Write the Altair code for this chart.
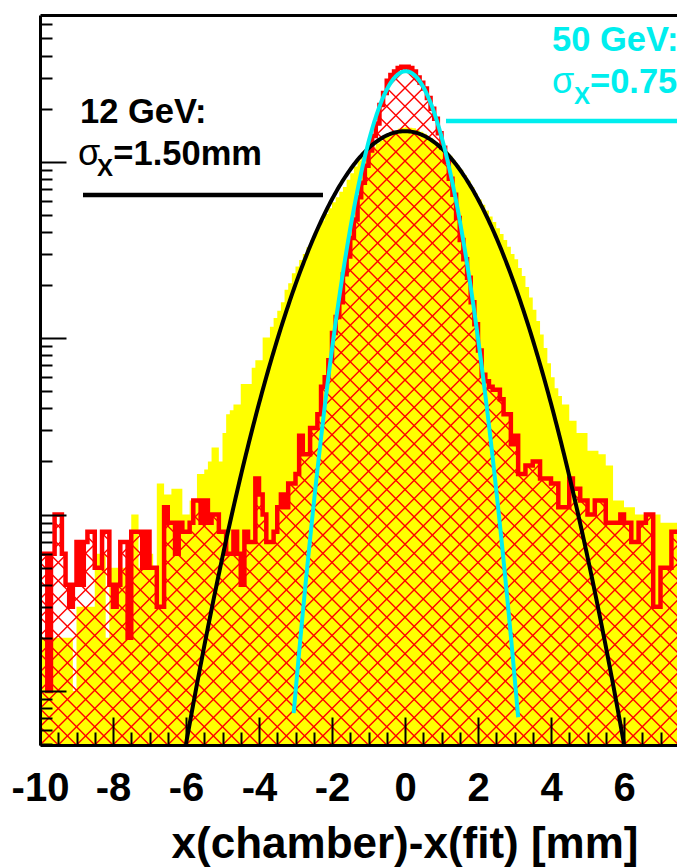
import numpy as np
import pandas as pd
import altair as alt

# ---- residual histograms, 0.1 mm bins starting at -10 mm -------------------
BIN_START = -10.0
BIN_WIDTH = 0.1

counts_12gev = [
    2, 2, 3, 2, 2, 2, 2, 2, 2, 1,
    3, 3, 3, 3, 3, 6, 6, 6, 2, 5,
    5, 5, 5, 5, 5, 10, 10, 5, 5, 5,
    6, 5, 15, 15, 13, 13, 14, 14, 14, 10,
    10, 12, 12, 17, 17, 18, 20, 24, 24, 20,
    29, 37, 39, 42, 42, 55, 55, 55, 68, 75,
    75, 101, 101, 116, 130, 143, 160, 188, 205, 233,
    255, 277, 300, 328, 360, 396, 430, 465, 505, 545,
    590, 630, 675, 720, 790, 860, 940, 1015, 1060, 1110,
    1160, 1210, 1270, 1320, 1380, 1420, 1460, 1490, 1540, 1560,
    1570, 1560, 1550, 1520, 1480, 1440, 1400, 1350, 1300, 1250,
    1200, 1140, 1080, 1020, 960, 900, 840, 780, 720, 660,
    610, 570, 530, 490, 455, 420, 390, 360, 330, 300,
    280, 250, 225, 195, 170, 145, 125, 105, 88, 72,
    60, 52, 47, 42, 42, 34, 34, 29, 29, 29,
    23, 23, 23, 22, 22, 19, 19, 12, 12, 12,
    11, 11, 11, 10, 10, 10, 10, 10, 10, 10,
    9, 9, 9, 9, 9,
]

counts_50gev = [
    6, 6, 1, 6, 10, 10, 6, 4, 3, 4,
    7, 4, 7, 8, 8, 5, 5, 8, 8, 4,
    3, 4, 7, 7, 2, 8, 8, 8, 5, 8,
    5, 5, 3, 3, 11, 9, 9, 6, 9, 8,
    8, 9, 12, 12, 9, 12, 9, 10, 10, 8,
    8, 6, 6, 8, 6, 4, 8, 7, 7, 16,
    13, 10, 7, 7, 8, 11, 13, 11, 15, 15,
    17, 28, 22, 22, 31, 31, 37, 53, 60, 75,
    107, 132, 160, 230, 290, 370, 470, 630, 760, 950,
    1160, 1400, 1650, 2100, 2450, 2880, 3100, 3250, 3400, 3450,
    3450, 3400, 3250, 3000, 2800, 2600, 2300, 2000, 1750, 1450,
    1200, 1000, 800, 650, 480, 360, 280, 220, 160, 120,
    85, 62, 57, 53, 51, 51, 45, 37, 37, 25,
    28, 17, 17, 19, 19, 20, 20, 16, 16, 16,
    15, 15, 11, 11, 11, 16, 14, 14, 12, 12,
    10, 10, 12, 12, 12, 9, 9, 9, 9, 10,
    9, 9, 7, 7, 9, 9, 10, 10, 3, 3,
    5, 5, 5, 8, 8,
]

# ---- Gaussian fit results -------------------------------------------------
FIT12 = dict(amp=1490.0, mean=0.0, sigma=1.50, lo=-6.0, hi=6.0)
FIT50 = dict(amp=3258.0, mean=0.02, sigma=0.75, lo=-3.05, hi=3.1)

# ---- axes -----------------------------------------------------------------
X_MIN, X_MAX = -10.0, 7.452
Y_MIN, Y_MAX = 0.494, 6790.0
PLOT_W, PLOT_H = 637, 730
MAJOR_X = [-10, -8, -6, -4, -2, 0, 2, 4, 6]
MINOR_X = [v / 2 for v in range(-20, 15) if v % 4 != 0]
MAJOR_Y = [1, 10, 100, 1000]
MINOR_Y = [0.5, 0.6, 0.7, 0.8, 0.9] + [k * 10 ** e for e in range(0, 3) for k in range(2, 10)] + [2000, 3000, 4000, 5000, 6000]

YELLOW = "#FFFF00"
RED = "#FF0000"
CYAN = "#00EEEE"
FONT = "Liberation Sans"
HATCH_STEP = 0.5

# ---- tables ---------------------------------------------------------------
n_bins = len(counts_12gev)
edges = np.round(BIN_START + BIN_WIDTH * np.arange(n_bins + 1), 2)
hist = pd.DataFrame({
    "x": edges,
    "y12": counts_12gev + [counts_12gev[-1]],
    "y50": counts_50gev + [counts_50gev[-1]],
})
hist["y12_top"] = np.maximum(hist["y12"], hist["y50"])


def gauss_table(fit, n=301):
    xv = np.linspace(fit["lo"], fit["hi"], n)
    yv = fit["amp"] * np.exp(-0.5 * ((xv - fit["mean"]) / fit["sigma"]) ** 2)
    return pd.DataFrame({"x": xv, "y": yv})


# 45-degree cross hatching: one plot height spans this many mm horizontally
span = (X_MAX - X_MIN) * PLOT_H / PLOT_W
starts = np.arange(X_MIN - np.ceil(span / HATCH_STEP) * HATCH_STEP, X_MAX + 1e-9, HATCH_STEP)
hatch = pd.DataFrame({
    "x": np.concatenate([starts, starts + span]),
    "x2": np.concatenate([starts + span, starts]),
    "y": Y_MIN,
    "y2": Y_MAX,
})

legend_lines = pd.DataFrame({
    "x": [-8.822, 1.123],
    "x2": [-2.247, 7.452],
    "y": [648.0, 1700.0],
    "color": ["black", CYAN],
})
legend_text = pd.DataFrame({
    "x": [-8.904, -7.99, 4.027, 5.068],
    "y": [1660.0, 959.0, 4250.0, 2455.0],
    "text": ["12 GeV:", "=1.50mm", "50 GeV:", "=0.75mm"],
    "color": ["black", "black", CYAN, CYAN],
})
legend_sigma = pd.DataFrame({
    "x": [-8.96, 4.027],
    "y": [959.0, 2455.0],
    "color": ["black", CYAN],
})
legend_sub = pd.DataFrame({
    "x": [-8.44, 4.63],
    "y": [830.0, 2127.0],
    "color": ["black", CYAN],
})

xs = alt.Scale(domain=[X_MIN, X_MAX], nice=False, zero=False)
ys = alt.Scale(type="log", domain=[Y_MIN, Y_MAX], nice=False)


def X(field):
    return alt.X(field, type="quantitative", scale=xs, axis=None)


def Y(field):
    return alt.Y(field, type="quantitative", scale=ys, axis=None)


base = alt.Chart(hist)

yellow_fill = base.mark_area(interpolate="step-after", color=YELLOW, opacity=1, clip=True).encode(
    x=X("x"), y=Y("y12"), y2=alt.datum(Y_MIN))

hatch_lines = alt.Chart(hatch).mark_rule(stroke=RED, strokeWidth=1.4, opacity=1, clip=True).encode(
    x=X("x"), x2="x2", y=Y("y"), y2="y2")

mask_above = base.mark_area(interpolate="step-after", color="white", opacity=1, clip=True).encode(
    x=X("x"), y=Y("y50"), y2=alt.datum(Y_MAX))

yellow_above = base.mark_area(interpolate="step-after", color=YELLOW, opacity=1, clip=True).encode(
    x=X("x"), y=Y("y50"), y2="y12_top")

red_outline = base.mark_line(interpolate="step-after", color=RED, strokeWidth=4.5, clip=True).encode(
    x=X("x"), y=Y("y50"))

fit12_line = alt.Chart(gauss_table(FIT12)).mark_line(color="black", strokeWidth=4, clip=True).encode(
    x=X("x"), y=Y("y"))
fit50_line = alt.Chart(gauss_table(FIT50)).mark_line(color=CYAN, strokeWidth=4, clip=True).encode(
    x=X("x"), y=Y("y"))

key_lines = alt.Chart(legend_lines).mark_rule(strokeWidth=4.5, clip=True).encode(
    x=X("x"), x2="x2", y=Y("y"), color=alt.Color("color:N", scale=None))

key_text = alt.Chart(legend_text).mark_text(
    align="left", baseline="alphabetic", font=FONT, fontWeight="bold", fontSize=34.5).encode(
    x=X("x"), y=Y("y"), text="text:N", color=alt.Color("color:N", scale=None))
key_sigma = alt.Chart(legend_sigma).mark_text(
    align="left", baseline="alphabetic", font=FONT, fontWeight="normal", fontSize=36, text="σ").encode(
    x=X("x"), y=Y("y"), color=alt.Color("color:N", scale=None))
key_sub = alt.Chart(legend_sub).mark_text(
    align="left", baseline="alphabetic", font=FONT, fontWeight="bold", fontSize=24, text="X").encode(
    x=X("x"), y=Y("y"), color=alt.Color("color:N", scale=None))

# ---- frame and inward ticks, each as its own axis -------------------------
axis_src = pd.DataFrame({"x": [X_MIN, X_MAX], "y": [Y_MIN, Y_MAX]})
common = dict(grid=False, title=None, zindex=1)


def x_axis(axis):
    return alt.Chart(axis_src).mark_point(opacity=0).encode(
        x=alt.X("x:Q", scale=xs, axis=axis))


def y_axis(axis):
    return alt.Chart(axis_src).mark_point(opacity=0).encode(
        y=alt.Y("y:Q", scale=ys, axis=axis))


x_labels = x_axis(alt.Axis(
    orient="bottom", values=MAJOR_X, labelExpr="'' + datum.value", ticks=False, grid=False,
    domain=True, domainColor="black", domainWidth=3,
    labelFont=FONT, labelFontWeight="bold", labelFontSize=40, labelColor="black",
    labelPadding=55, labelBaseline="alphabetic", labelOverlap=False, labelFlush=False,
    title="x(chamber)-x(fit) [mm]", titleFont=FONT, titleFontWeight="bold", titleFontSize=44,
    titleColor="black", titleX=598, titleY=112, titleAlign="right", titleBaseline="alphabetic",
    zindex=1))
x_major = x_axis(alt.Axis(orient="top", offset=-PLOT_H, values=MAJOR_X, tickSize=28, tickWidth=2,
                          tickColor="black", labels=False, domain=False, **common))
x_minor = x_axis(alt.Axis(orient="top", offset=-PLOT_H, values=MINOR_X, tickSize=13, tickWidth=2,
                          tickColor="black", labels=False, domain=False, **common))
x_top = x_axis(alt.Axis(orient="top", ticks=False, labels=False, domain=True, domainColor="black",
                        domainWidth=3, **common))
y_left = y_axis(alt.Axis(orient="left", ticks=False, labels=False, domain=True, domainColor="black",
                         domainWidth=3, **common))
y_major = y_axis(alt.Axis(orient="right", offset=-PLOT_W, values=MAJOR_Y, tickSize=26, tickWidth=2,
                          tickColor="black", labels=False, domain=False, **common))
y_minor = y_axis(alt.Axis(orient="right", offset=-PLOT_W, values=MINOR_Y, tickSize=12, tickWidth=2,
                          tickColor="black", labels=False, domain=False, **common))

chart = alt.layer(
    yellow_fill, hatch_lines, mask_above, yellow_above, red_outline,
    fit12_line, fit50_line, key_lines, key_text, key_sigma, key_sub,
    x_labels, x_major, x_minor, x_top, y_left, y_major, y_minor,
).resolve_axis(
    x="independent", y="independent"
).properties(
    width=PLOT_W, height=PLOT_H,
    padding={"left": 40, "top": 15, "right": 0, "bottom": 122},
    autosize=alt.AutoSizeParams(type="none"),
    background="white",
).configure_view(stroke=None)

chart.save("out.html", embed_options={"renderer": "svg", "actions": False})
